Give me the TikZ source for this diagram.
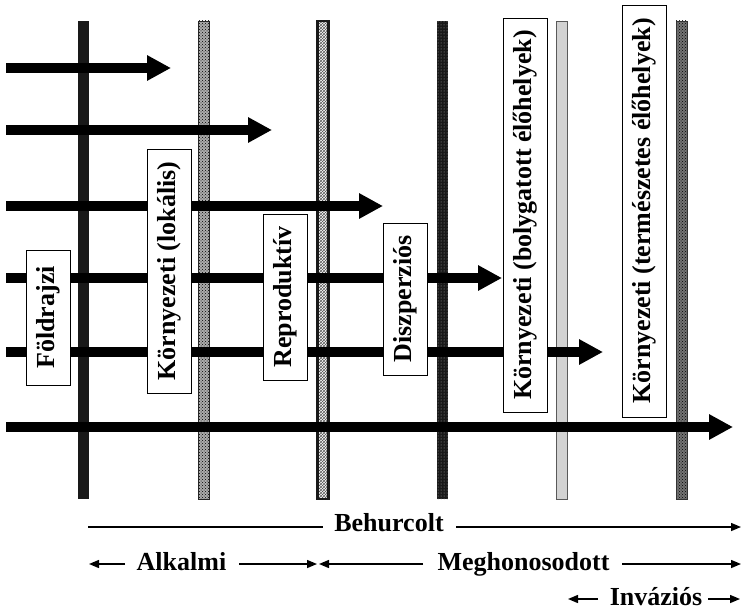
\documentclass[tikz,border=0pt]{standalone}
\usepackage{fontspec}
\setmainfont{Liberation Serif}
\usetikzlibrary{arrows.meta,patterns}
\begin{document}
\begin{tikzpicture}[x=1pt,y=-1pt,
  bigarrow/.style={line width=10pt,-{Triangle[length=24pt,width=24pt]}},
  lbl/.style={draw,fill=white,line width=0.8pt,rotate=90,font=\fontsize{26}{30}\selectfont\bfseries,minimum height=44pt,inner sep=0pt},
  bartext/.style={font=\fontsize{26}{30}\selectfont\bfseries,anchor=base,inner sep=0pt},
  bar/.style={minimum width=11pt,minimum height=478pt,inner sep=0pt},
  thinline/.style={line width=1.4pt},
  thinarrow/.style={line width=1.4pt,-{Triangle[length=10pt,width=8pt]}}
]
\useasboundingbox (0,0) rectangle (743,610);
% barriers
\node[bar,fill=black!90] (bar1) at (83.5,260) {};
\node[bar,draw=black!85,line width=0.8pt,preaction={fill=gray!65},pattern=crosshatch dots,pattern color=black] (bar2) at (203.5,260) {};
\node[bar,draw=black!90,line width=2.5pt,preaction={fill=white},pattern=crosshatch,pattern color=black!65] (bar3) at (323,260) {};
\node[bar,preaction={fill=black!90},pattern=dots,pattern color=gray!70] (bar4) at (442.5,260) {};
\node[bar,fill=gray!35,draw=gray!70!black,line width=0.8pt] (bar5) at (562,260) {};
\node[bar,draw=black!80,line width=0.8pt,preaction={fill=black!55},pattern=crosshatch dots,pattern color=black] (bar6) at (681.5,260) {};
% arrows
\coordinate (s1) at (6,68);  \coordinate (e1) at (171,68);
\coordinate (s2) at (6,130); \coordinate (e2) at (272,130);
\coordinate (s3) at (6,206); \coordinate (e3) at (383,206);
\coordinate (s4) at (6,278); \coordinate (e4) at (502,278);
\coordinate (s5) at (6,352); \coordinate (e5) at (603,352);
\coordinate (s6) at (6,427); \coordinate (e6) at (733,427);
\foreach \i in {1,...,6} \draw[bigarrow] (s\i) -- (e\i);
% labels
\node[lbl,minimum width=135pt] (fold) at (48.5,317.5) {Földrajzi};
\node[lbl,minimum width=244pt] (lok) at (169.5,271) {Környezeti (lokális)};
\node[lbl,minimum width=166pt] (rep) at (285,297) {Reproduktív};
\node[lbl,minimum width=152pt] (disz) at (405,299) {Diszperziós};
\node[lbl,minimum width=394pt] (boly) at (525,215) {Környezeti (bolygatott élőhelyek)};
\node[lbl,minimum width=412pt] (term) at (644,211) {Környezeti (természetes élőhelyek)};
% bottom scale
\node[bartext] (beh) at (389,531) {Behurcolt};
\coordinate (b0) at (88,527); \coordinate (b1) at (323,527);
\coordinate (b2) at (456,527); \coordinate (b3) at (741,527);
\draw[thinline] (b0) -- (b1);
\draw[thinarrow] (b2) -- (b3);
\node[bartext] (alk) at (181.5,570) {Alkalmi};
\coordinate (a0) at (125,564); \coordinate (a1) at (89,564);
\coordinate (a2) at (239,564); \coordinate (a3) at (317,564);
\draw[thinarrow] (a0) -- (a1);
\draw[thinarrow] (a2) -- (a3);
\node[bartext] (meg) at (523.5,570) {Meghonosodott};
\coordinate (m0) at (423,564); \coordinate (m1) at (319,564);
\coordinate (m2) at (622,564); \coordinate (m3) at (741,564);
\draw[thinarrow] (m0) -- (m1);
\draw[thinarrow] (m2) -- (m3);
\node[bartext] (inv) at (656,605) {Inváziós};
\coordinate (i0) at (598,599); \coordinate (i1) at (568,599);
\coordinate (i2) at (708,599); \coordinate (i3) at (740,599);
\draw[thinarrow] (i0) -- (i1);
\draw[thinarrow] (i2) -- (i3);
\end{tikzpicture}
\end{document}
